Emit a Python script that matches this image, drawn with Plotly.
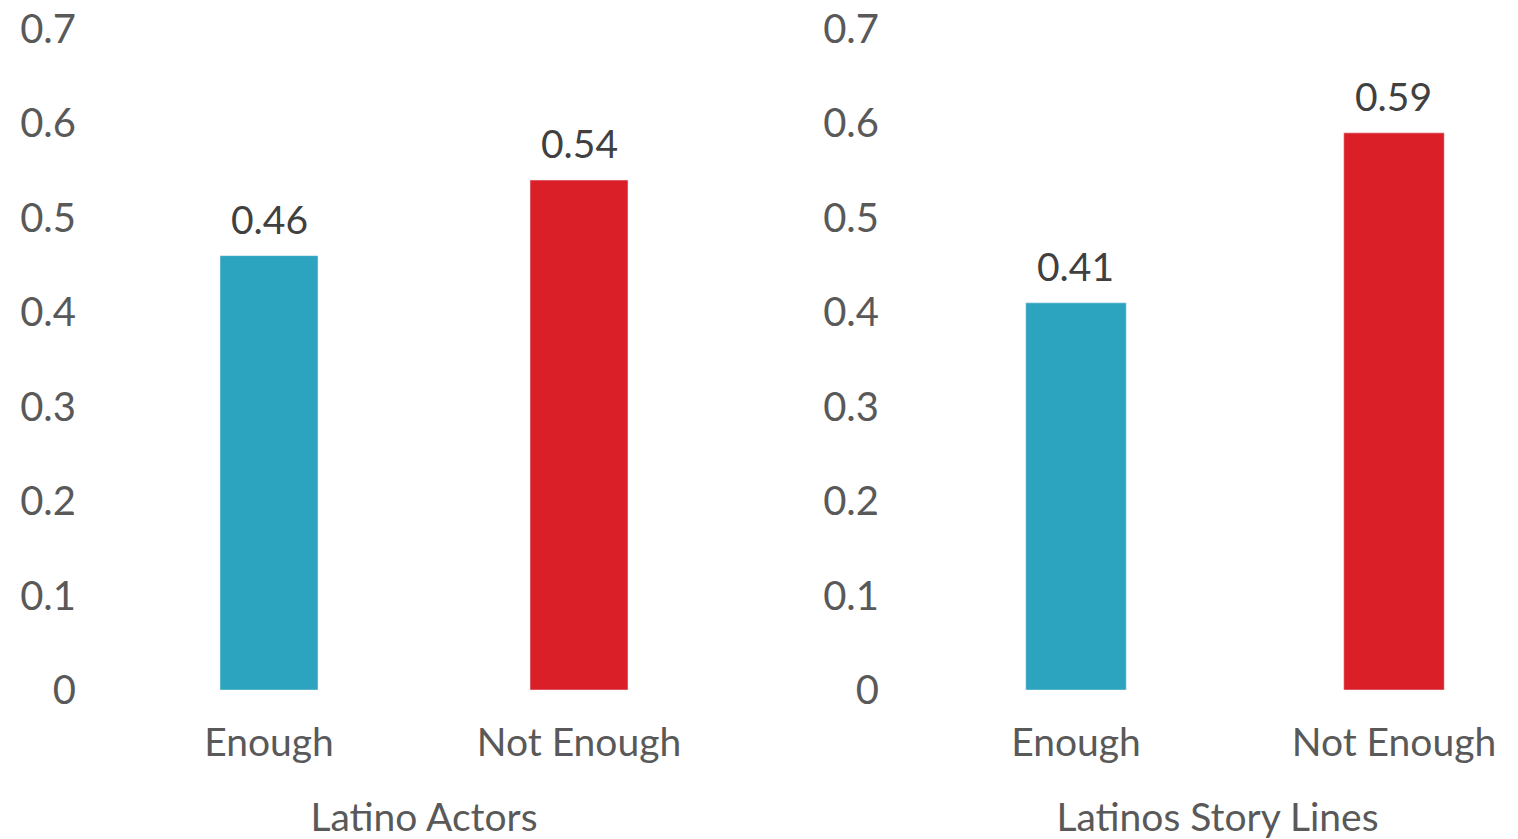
import plotly.graph_objects as go

categories = ["Enough", "Not Enough"]
actors_values = [0.46, 0.54]
storylines_values = [0.41, 0.59]
panel_titles = ["Latino Actors", "Latinos Story Lines"]
bar_colors = ["#2CA3BF", "#DB1F28"]
y_ticks = [0, 0.1, 0.2, 0.3, 0.4, 0.5, 0.6, 0.7]
y_ticktext = ["0", "0.1", "0.2", "0.3", "0.4", "0.5", "0.6", "0.7"]

W, H = 1518, 839
FONT = "Lato"
TICK_COLOR = "#595959"
LABEL_COLOR = "#404040"

fig = go.Figure()

panels = [("x", "y", actors_values), ("x2", "y2", storylines_values)]
for xa, ya, vals in panels:
    fig.add_trace(go.Bar(
        x=categories, y=vals, marker_color=bar_colors,
        width=0.316, xaxis=xa, yaxis=ya, showlegend=False,
    ))
    for c, v in zip(categories, vals):
        fig.add_annotation(
            x=c, y=v, xref=xa, yref=ya, text=f"{v:.2f}", showarrow=False,
            yanchor="middle", yshift=37,
            font=dict(size=39, color=LABEL_COLOR, family=FONT),
        )

y_bottom = (H - 690) / H
y_top = (H - 29) / H

common_y = dict(
    range=[0, 0.7], tickvals=y_ticks, ticktext=y_ticktext,
    showgrid=False, zeroline=False, showline=False, automargin=False,
    ticks="outside", ticklen=29, tickcolor="rgba(0,0,0,0)",
    tickfont=dict(size=40, color=TICK_COLOR, family=FONT),
    domain=[y_bottom, y_top],
)
common_x = dict(
    type="category", showgrid=False, zeroline=False, showline=False, automargin=False,
    ticks="outside", ticklen=18, tickcolor="rgba(0,0,0,0)",
    tickfont=dict(size=39, color=TICK_COLOR, family=FONT),
)

fig.update_layout(
    width=W, height=H,
    margin=dict(l=0, r=0, t=0, b=0),
    paper_bgcolor="white", plot_bgcolor="white",
    xaxis=dict(common_x, domain=[114 / W, 734 / W], range=[-0.5, 1.5], anchor="y",
               title=dict(text=panel_titles[0], font=dict(size=39, color=TICK_COLOR, family=FONT), standoff=47)),
    yaxis=dict(common_y, anchor="x"),
    xaxis2=dict(common_x, domain=[917 / W, 1.0], range=[-0.5, 1.39], anchor="y2",
                title=dict(text=panel_titles[1], font=dict(size=39, color=TICK_COLOR, family=FONT), standoff=47)),
    yaxis2=dict(common_y, anchor="x2"),
)

fig.write_html("out.html")
